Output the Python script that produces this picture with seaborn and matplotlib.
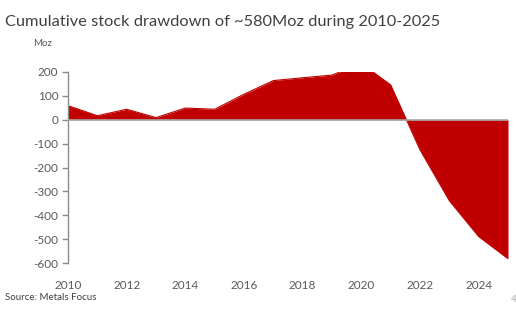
import matplotlib
matplotlib.use("Agg")
import matplotlib.pyplot as plt
import seaborn as sns
import pandas as pd

years = [2010, 2011, 2012, 2013, 2014, 2015, 2016, 2017, 2018, 2019, 2020, 2021, 2022, 2023, 2024, 2025]
stock = [59, 17, 44, 9, 49, 44, 107, 164, 176, 187, 236, 146, -126, -339, -489, -582]
yticks = [200, 100, 0, -100, -200, -300, -400, -500, -600]
xticks = [2010, 2012, 2014, 2016, 2018, 2020, 2022, 2024]

title = "Cumulative stock drawdown of ~580Moz during 2010-2025"
unit = "Moz"
source = "Source: Metals Focus"

sns.set_theme(style="white")
plt.rcParams["font.family"] = ["Lato", "DejaVu Sans"]
plt.rcParams["axes.unicode_minus"] = False

df = pd.DataFrame({"year": years, "stock": stock})
red = "#C00000"
grey = "#8C8C8C"

fig = plt.figure(figsize=(5.16, 3.14), dpi=100)
ax = fig.add_axes([68/516, 1 - 263/314, (508-68)/516, (263-72)/314])

sns.lineplot(data=df, x="year", y="stock", ax=ax, color=red, linewidth=0.8)
ax.fill_between(df["year"], df["stock"], 0, color=red, linewidth=0)
ax.axhline(0, color="#A6A6A6", linewidth=1.2, zorder=3)

ax.set_xlim(2010, 2025)
ax.set_ylim(-600, 200)
ax.set_yticks(yticks)
ax.set_xticks(xticks)
ax.set_xlabel("")
ax.set_ylabel("")
for s in ["top", "right", "bottom"]:
    ax.spines[s].set_visible(False)
ax.spines["left"].set_color(grey)
ax.spines["left"].set_linewidth(1)
ax.tick_params(axis="y", which="major", left=True, length=4, width=1, color=grey,
               labelsize=8.5, labelcolor="#595959", pad=3)
ax.tick_params(axis="x", which="major", bottom=False, labelsize=8.5, labelcolor="#595959", pad=6)

fig.text(5/516, 1 - 22/314, title, fontsize=11.8, color="#404040", va="center", ha="left")
fig.text(33/516, 1 - 43/314, unit, fontsize=7, color="#595959", va="center", ha="left")
fig.text(5/516, 1 - 298/314, source, fontsize=7, color="#404040", va="center", ha="left")
fig.text(511/516, 1 - 299/314, "4", fontsize=7, color="#A6A6A6", va="center", ha="left")

fig.savefig("out.png", dpi=100)
